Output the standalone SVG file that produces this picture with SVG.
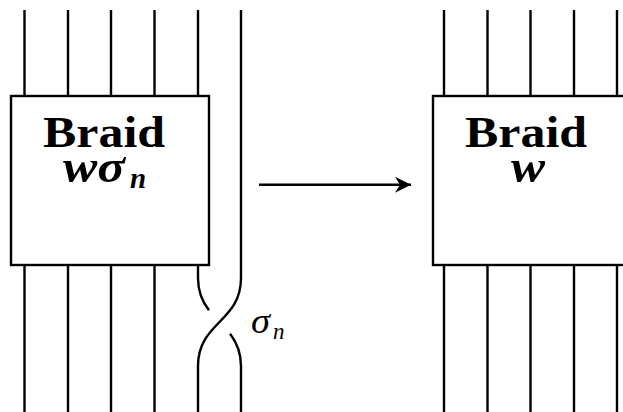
<svg xmlns="http://www.w3.org/2000/svg" width="623" height="412" viewBox="0 0 623 412">
<style>
.s{fill:none;stroke:#000;stroke-width:2.4;stroke-linecap:butt}
.box{fill:#fff;stroke:#000;stroke-width:2.4}
.t{font-family:"Liberation Serif","DejaVu Serif",serif;fill:#000}
.b{font-weight:bold;font-size:44px}
.m{font-weight:bold;font-style:italic;font-size:46px}
.ms{font-weight:bold;font-style:italic;font-size:29px}
.l{font-style:italic;font-size:36px}
.ls{font-style:italic;font-size:23px}
</style>
<defs>
<marker id="ah" viewBox="0 0 17 16" refX="16" refY="8" markerWidth="17" markerHeight="16" markerUnits="userSpaceOnUse" orient="auto">
<path d="M16,8 L0,0 L5,8 L0,16 Z" fill="#000"/>
</marker>
</defs>
<g id="connectors">
<g id="strands-left">
<path class="s" d="M24.5,10V96M68,10V96M111,10V96M154.5,10V96M198,10V96"/>
<path class="s" d="M24.5,265V412M68,265V412M111,265V412M154.5,265V412"/>
<path class="s" d="M241,10V278C241,322 198,322 198,366V412"/>
<path class="s" d="M198,265V278C198,292.52 202.68,302.25 208.96,310.35"/>
<path class="s" d="M230.04,333.65C236.32,341.75 241,351.48 241,366V412"/>
</g>
<g id="strands-right">
<path class="s" d="M444,10V96M487.5,10V96M530.5,10V96M574,10V96M617,10V96"/>
<path class="s" d="M444,265V412M487.5,265V412M530.5,265V412M574,265V412M617,265V412"/>
</g>
<path id="arrow" class="s" d="M259,184.7H411" marker-end="url(#ah)"/>
</g>
<g id="node-left">
<rect class="box" x="11" y="96" width="198" height="169"/>
<text class="t"><tspan class="b" x="43" y="147" textLength="122" lengthAdjust="spacingAndGlyphs">Braid</tspan><tspan class="m" x="63" y="182" textLength="62" lengthAdjust="spacingAndGlyphs">wσ</tspan><tspan class="ms" x="130" y="188">n</tspan></text>
</g>
<g id="node-right">
<rect class="box" x="433" y="96" width="200" height="169"/>
<text class="t"><tspan class="b" x="465" y="147" textLength="122" lengthAdjust="spacingAndGlyphs">Braid</tspan><tspan class="m" x="511" y="182" textLength="34" lengthAdjust="spacingAndGlyphs">w</tspan></text>
</g>
<g id="label-sigma">
<text class="t l" x="251" y="333" textLength="19" lengthAdjust="spacingAndGlyphs">σ</text>
<text class="t ls" x="273" y="339">n</text>
</g>
</svg>
